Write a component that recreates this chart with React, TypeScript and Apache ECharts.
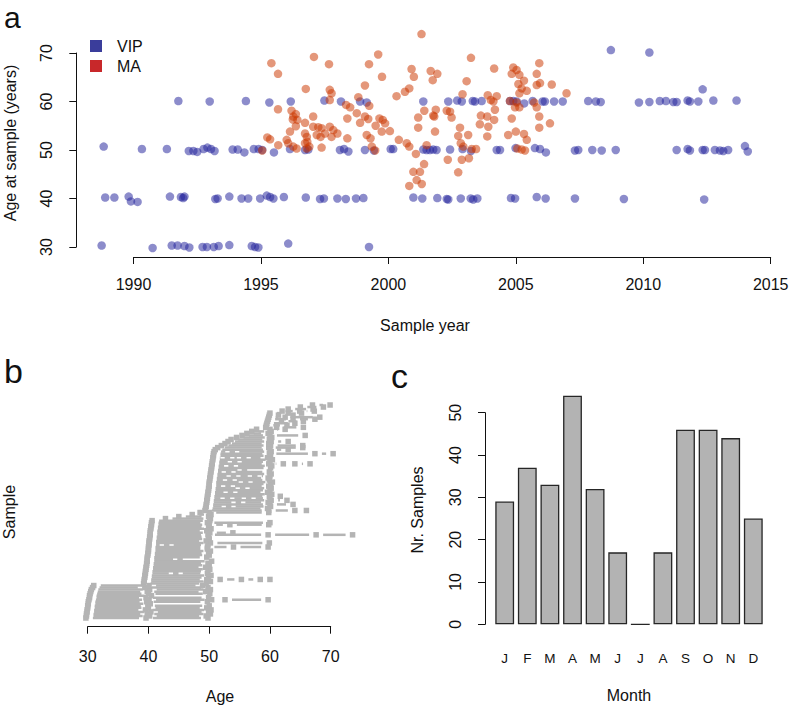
import React, { useEffect, useRef } from "react";
import * as echarts from "echarts";

const FONT = '"Liberation Sans", Arial, Helvetica, sans-serif';
const INK = "#111111";
const GREY = "#b4b4b4";

// ---- Panel a: sample year vs age at sample ----
const VIP_POINTS: [number, number][] = [
  [1988.75, 30.3], [1990.75, 29.8], [1991.5, 30.3], [1991.73, 30.3], [1992.0, 30.2], [1992.19, 29.9],
  [1992.71, 30.0], [1992.88, 30.0], [1993.15, 30.0], [1993.34, 30.2], [1993.76, 30.4], [1994.64, 30.2],
  [1994.77, 30.0], [1994.9, 29.9], [1996.07, 30.7], [1999.24, 30.0],
  [1988.89, 40.2], [1989.25, 40.2], [1989.81, 40.4], [1989.9, 39.4], [1990.16, 39.3], [1991.43, 40.4],
  [1991.86, 40.3], [1992.0, 40.4], [1991.95, 40.1], [1993.21, 39.9], [1993.3, 40.0], [1993.76, 40.4],
  [1994.24, 40.0], [1994.5, 40.0], [1994.97, 40.0], [1995.23, 40.6], [1995.36, 40.3], [1995.49, 40.0],
  [1995.9, 40.3], [1996.76, 40.2], [1997.32, 39.9], [1997.47, 40.0], [1998.0, 40.0], [1998.33, 39.9],
  [1998.73, 40.0], [1999.02, 40.1], [2000.98, 40.2], [2001.33, 40.0], [2001.92, 40.1], [2002.29, 39.9],
  [2002.35, 39.8], [2002.84, 40.0], [2003.23, 40.0], [2003.33, 39.8], [2003.49, 40.0], [2004.81, 40.1],
  [2004.97, 40.0], [2005.82, 40.3], [2006.17, 40.0], [2007.32, 40.0], [2009.24, 39.9], [2012.39, 39.8],
  [1988.83, 50.7], [1990.33, 50.2], [1991.31, 50.2], [1992.17, 49.8], [1992.35, 49.8], [1992.5, 49.6],
  [1992.75, 50.2], [1992.9, 50.5], [1993.04, 50.2], [1993.18, 49.8], [1993.89, 50.1], [1994.09, 50.1],
  [1994.35, 49.5], [1994.72, 50.2], [1994.91, 50.2], [1995.05, 50.0], [1995.51, 49.5], [1996.14, 50.2],
  [1996.73, 50.0], [1996.86, 50.1], [1998.1, 50.0], [1998.26, 50.2], [1998.43, 49.7], [1999.08, 50.0],
  [1999.43, 49.9], [2000.09, 50.2], [2000.19, 50.2], [2001.37, 50.1], [2001.5, 50.0], [2001.63, 50.0],
  [2001.76, 50.1], [2001.89, 50.0], [2002.42, 50.1], [2002.91, 50.2], [2003.24, 49.8], [2004.25, 50.0],
  [2004.38, 50.0], [2004.99, 50.4], [2005.75, 50.4], [2005.95, 50.2], [2006.18, 49.5], [2007.32, 49.9],
  [2007.45, 50.0], [2008.0, 50.0], [2008.37, 49.9], [2008.92, 50.0], [2011.31, 50.0], [2011.74, 50.2],
  [2011.83, 49.9], [2012.33, 50.0], [2012.42, 50.0], [2012.81, 50.0], [2013.01, 49.9], [2013.14, 49.8],
  [2013.33, 50.0], [2013.99, 50.8], [2014.1, 49.7],
  [1991.76, 60.1], [1992.99, 60.0], [1994.41, 60.1], [1995.33, 59.8], [1996.17, 60.0], [1997.49, 60.2],
  [1998.14, 60.0], [1998.89, 60.0], [1999.15, 59.8], [2001.37, 60.0], [2002.35, 60.0], [2002.7, 60.2],
  [2002.88, 60.0], [2003.31, 60.1], [2003.4, 60.0], [2003.66, 60.1], [2004.77, 60.1], [2004.9, 60.1],
  [2005.03, 60.0], [2005.33, 59.6], [2005.66, 60.1], [2006.05, 60.0], [2006.14, 60.0], [2006.5, 60.0],
  [2006.84, 60.0], [2007.84, 60.1], [2008.14, 60.0], [2008.33, 59.9], [2009.83, 59.8], [2010.24, 59.9],
  [2010.65, 60.1], [2010.89, 60.1], [2011.18, 59.9], [2011.31, 59.9], [2011.74, 60.2], [2011.83, 60.0],
  [2012.16, 60.0], [2012.33, 62.5], [2012.75, 60.2], [2013.66, 60.2],
  [2008.73, 70.6], [2010.24, 70.1],
];

const MA_POINTS: [number, number][] = [
  [1995.05, 49.9], [1995.25, 52.6], [1995.36, 52.2], [1995.41, 67.9], [1995.67, 65.7], [1995.67, 58.4],
  [1995.68, 51.0], [1996.01, 52.1], [1996.07, 51.4], [1996.14, 53.8], [1996.2, 58.1], [1996.25, 56.3],
  [1996.27, 56.9], [1996.27, 50.7], [1996.37, 57.4], [1996.37, 54.9], [1996.4, 50.3], [1996.43, 56.2],
  [1996.73, 55.6], [1996.73, 53.4], [1996.73, 51.4], [1996.76, 62.6], [1996.8, 52.7], [1996.8, 50.3],
  [1996.82, 51.7], [1996.9, 50.7], [1997.05, 56.9], [1997.05, 54.8], [1997.08, 69.2], [1997.19, 53.1],
  [1997.25, 54.7], [1997.34, 52.7], [1997.38, 54.5], [1997.38, 50.5], [1997.51, 53.4], [1997.67, 67.7],
  [1997.7, 62.4], [1997.77, 61.7], [1997.7, 60.3], [1997.7, 54.8], [1997.84, 54.1], [1997.77, 52.7],
  [1998.0, 53.4], [1998.34, 59.3], [1998.5, 58.8], [1998.39, 56.5], [1998.39, 52.4], [1998.76, 57.6],
  [1998.82, 60.9], [1998.89, 55.6], [1999.08, 63.3], [1999.08, 56.9], [1999.21, 56.4], [1999.15, 53.1],
  [1999.3, 52.4], [1999.35, 50.7], [1999.48, 49.9], [1999.25, 59.1], [1999.24, 67.7], [1999.6, 69.7],
  [1999.75, 65.1], [1999.5, 55.0], [1999.65, 56.5], [1999.78, 56.2], [1999.87, 55.5], [1999.74, 53.8],
  [2000.06, 53.9], [2000.32, 61.1], [2000.41, 52.1],
  [2000.65, 62.0], [2000.82, 62.7], [2000.91, 66.7], [2001.0, 65.1], [2001.3, 73.9], [2001.66, 66.3],
  [2001.92, 65.7], [2001.74, 64.4], [2000.72, 51.4], [2000.82, 50.7], [2001.08, 49.2], [2001.4, 47.1],
  [2000.98, 45.5], [2001.24, 45.5], [2001.11, 43.8], [2001.31, 43.0], [2000.82, 42.6], [2001.5, 51.0],
  [2001.41, 58.1], [2001.17, 56.7], [2001.76, 57.1], [2001.86, 58.3], [2001.8, 56.9], [2001.17, 54.6],
  [2001.83, 53.8], [2002.29, 58.1], [2002.48, 56.7], [2002.42, 57.9], [2002.81, 54.6], [2002.74, 52.9],
  [2002.84, 51.4], [2002.94, 50.7], [2003.13, 53.1], [2002.33, 48.0], [2002.88, 48.0], [2003.16, 48.3],
  [2002.74, 45.4], [2002.91, 61.5], [2003.07, 64.2], [2003.24, 69.0], [2003.27, 50.2], [2003.44, 50.2],
  [2003.63, 57.1], [2003.59, 55.3], [2003.88, 56.9], [2003.92, 54.8], [2003.88, 52.8], [2003.9, 61.3],
  [2004.02, 60.3], [2004.12, 60.0], [2004.25, 61.1], [2004.18, 58.3], [2004.15, 56.2], [2004.15, 66.8],
  [2004.7, 53.1], [2004.77, 60.1], [2004.84, 65.7], [2004.84, 56.5], [2004.9, 67.0], [2004.97, 58.8],
  [2005.0, 53.8], [2005.03, 66.5], [2005.03, 59.8], [2005.06, 50.3], [2005.1, 63.6], [2005.14, 65.5],
  [2005.14, 61.7], [2005.14, 58.8], [2005.23, 62.7], [2005.23, 50.1], [2005.32, 64.3], [2005.32, 53.3],
  [2005.36, 49.9], [2005.43, 62.2], [2005.43, 52.1], [2005.72, 59.8], [2005.82, 65.7], [2005.82, 63.4],
  [2005.82, 58.8], [2005.92, 67.9], [2005.92, 56.9], [2005.92, 54.6], [2005.95, 63.8], [2006.34, 55.5],
  [2006.41, 63.5], [2006.99, 61.7],
];

// ---- Panel b: ages at which each sampled person was sampled (one row per person) ----
const SAMPLE_ROWS: number[][] = [
  [29.7, 39.6, 49.8], [29.8, 40.2, 49.5], [29.8, 39.8, 50.2], [29.9, 40.4, 49.9], [29.9, 39.5, 50.3],
  [30.0, 40.0, 49.6], [30.0, 39.9, 50.0], [30.1, 40.3], [30.1, 39.7, 49.7], [30.2, 40.1, 50.4, 52.6, 59.7],
  [30.3, 39.6, 49.9], [30.3, 40.5], [30.4, 40.0, 50.1], [30.5, 39.8, 49.4], [30.6, 40.2, 50.2],
  [30.8, 39.4, 49.8], [31.0, 40.1, 48.9],
  [39.2, 49.5], [39.3, 50.2], [39.3, 49.6, 51.8, 55.3, 58.4, 60.0], [39.4, 49.9], [39.4, 50.3],
  [39.5, 44.5, 49.7], [39.5, 49.8], [39.6, 50.1], [39.6, 49.4], [39.7, 50.0], [39.7, 49.8], [39.8, 50.4],
  [39.8, 45.2], [39.8, 49.6], [39.9, 50.0], [39.9, 49.9], [40.0, 50.2], [40.0, 49.7],
  [40.0, 49.7, 54.0, 59.7], [40.1, 43.0, 49.8], [40.1, 50.2, 59.9], [40.1, 49.5], [40.2, 50.0],
  [40.2, 49.9], [40.3, 49.8, 59.7, 67.6, 73.6], [40.3, 50.1, 53.9], [40.3, 49.6], [40.4, 50.3],
  [40.4, 49.9], [40.5, 50.0, 53.4, 59.8], [40.5, 49.7, 60.0], [40.6, 50.1],
  [42.8, 50.2], [45.0, 49.9], [47.2, 50.3], [48.5, 50.0, 59.8],
  [49.3, 59.8, 64.1, 66.0], [49.4, 59.6], [49.5, 53.2, 60.1], [49.5, 60.0, 63.8], [49.6, 54.8, 59.7],
  [49.6, 60.2, 62.8], [49.7, 53.0, 56.5, 60.0], [49.7, 59.9, 61.7], [49.8, 60.3], [49.8, 53.5, 59.6],
  [49.9, 60.0], [49.9, 55.5, 60.2], [50.0, 53.1, 59.8], [50.0, 60.1], [50.0, 56.0, 60.4],
  [50.1, 53.4, 59.9], [50.1, 59.7], [50.2, 54.0, 57.5, 60.0], [50.2, 60.2], [50.3, 53.2, 59.9],
  [50.3, 55.8], [50.4, 60.1], [50.4, 53.6, 60.3], [50.5, 59.8, 62.2, 64.1, 66.6], [50.5, 54.2, 60.0],
  [50.6, 60.4], [50.6, 53.0, 55.7, 59.6], [50.7, 60.1], [50.7, 59.9, 67.4, 70.4], [50.8, 53.8, 60.2],
  [51.0, 60.0, 63.0], [51.4, 59.8, 65.4],
  [52.0, 60.1, 65.4], [52.6, 59.8], [53.1, 60.2, 63.0], [53.6, 59.9], [54.5, 60.3], [55.4, 60.0, 65.8],
  [56.2, 59.7], [57.0, 60.2], [57.8, 60.0, 62.5],
  [59.3, 61.1, 65.5], [59.4, 62.8], [59.5, 64.1], [59.6, 61.9, 65.5], [59.7, 63.8, 67.4],
  [59.8, 62.5, 68.2], [59.9, 61.4, 63.8], [60.0, 63.0, 65.2], [62.0, 64.9, 67.3], [63.0, 67.1],
  [65.0, 68.8], [67.0, 69.9],
];

// ---- Panel c: samples per month ----
const MONTH_NAMES = ["Jan", "Feb", "Mar", "Apr", "May", "Jun", "Jul", "Aug", "Sep", "Oct", "Nov", "Dec"];
const MONTH_COUNTS = [29, 37, 33, 54, 32, 17, 0, 17, 46, 46, 44, 25];

const VIP_COLOR = "rgba(35,35,155,0.65)";
const MA_COLOR = "rgba(204,55,0,0.65)";

function text(
  str: string, x: number, y: number, size: number,
  opts: { align?: string; valign?: string; rotation?: number } = {}
) {
  const align = opts.align || "center";
  const valign = opts.valign || "middle";
  return {
    type: "text",
    x,
    y,
    rotation: opts.rotation || 0,
    silent: true,
    style: {
      text: str,
      fontSize: size,
      fontFamily: FONT,
      fill: INK,
      align,
      verticalAlign: valign,
      textAlign: align,
      textVerticalAlign: valign,
    },
  };
}

export default function App() {
  const ref = useRef<HTMLDivElement>(null);

  useEffect(() => {
    document.body.style.margin = "0";
    if (!ref.current) return;
    const chart = echarts.init(ref.current, undefined, { renderer: "svg" });

    const axisLine = { show: true, onZero: false, lineStyle: { color: INK, width: 1 } };
    const axisTick = { show: true, length: 7, lineStyle: { color: INK, width: 1 } };
    const plain = (v: number) => String(v);

    const option: any = {
      animation: false,
      backgroundColor: "#ffffff",
      textStyle: { fontFamily: FONT },
      legend: {
        orient: "vertical",
        left: 90,
        top: 38,
        padding: 0,
        itemWidth: 12,
        itemHeight: 12,
        itemGap: 4,
        icon: "rect",
        selectedMode: false,
        textStyle: { fontSize: 16, color: INK, fontFamily: FONT, padding: [0, 0, 0, 10] },
        data: [
          { name: "VIP", itemStyle: { color: "#3a3d9b", opacity: 1 } },
          { name: "MA", itemStyle: { color: "#c8282a", opacity: 1 } },
        ],
      },
      grid: [
        { left: 133.5, right: 19.3, top: 53, bottom: 458, outerBoundsMode: "none" },
        { left: 87.7, right: 459.3, top: 405, bottom: 87, outerBoundsMode: "none" },
        { left: 493.4, right: 25.4, top: 412.7, bottom: 80.7, outerBoundsMode: "none" },
      ],
      xAxis: [
        {
          gridIndex: 0, type: "value", min: 1990, max: 2015, interval: 5, offset: 10,
          axisLine, axisTick, splitLine: { show: false },
          axisLabel: { fontSize: 16, color: INK, margin: 19, fontFamily: FONT, formatter: plain },
        },
        {
          gridIndex: 1, type: "value", min: 30, max: 70, interval: 10, offset: 8.7,
          axisLine, axisTick, splitLine: { show: false },
          axisLabel: { fontSize: 16, color: INK, margin: 22, fontFamily: FONT, formatter: plain },
        },
        {
          gridIndex: 2, type: "category", data: MONTH_NAMES,
          axisLine: { show: false }, axisTick: { show: false }, splitLine: { show: false },
          axisLabel: {
            interval: 0, fontSize: 13.5, color: INK, margin: 27, fontFamily: FONT,
            formatter: (v: string) => v.charAt(0),
          },
        },
      ],
      yAxis: [
        {
          gridIndex: 0, type: "value", min: 30, max: 70, interval: 10, offset: 57.2,
          axisLine, axisTick, splitLine: { show: false },
          axisLabel: { fontSize: 16, color: INK, margin: 22, rotate: 90, fontFamily: FONT, formatter: plain },
        },
        { gridIndex: 1, type: "value", min: 1, max: SAMPLE_ROWS.length, show: false, splitLine: { show: false } },
        {
          gridIndex: 2, type: "value", min: 0, max: 50, interval: 10, offset: 8.4,
          axisLine, axisTick, splitLine: { show: false },
          axisLabel: { fontSize: 16, color: INK, margin: 22, rotate: 90, fontFamily: FONT, formatter: plain },
        },
      ],
      series: [
        {
          name: "VIP", type: "scatter", xAxisIndex: 0, yAxisIndex: 0, clip: false,
          symbol: "circle", symbolSize: 8.5, data: VIP_POINTS,
          itemStyle: { color: VIP_COLOR }, emphasis: { disabled: true },
        },
        {
          name: "MA", type: "scatter", xAxisIndex: 0, yAxisIndex: 0, clip: false,
          symbol: "circle", symbolSize: 8.5, data: MA_POINTS,
          itemStyle: { color: MA_COLOR }, emphasis: { disabled: true },
        },
        {
          name: "rows", type: "custom", xAxisIndex: 1, yAxisIndex: 1, clip: false,
          data: SAMPLE_ROWS.map((ages, i) => [ages[0], i + 1]),
          renderItem: (params: any, api: any) => {
            const ages = SAMPLE_ROWS[params.dataIndex];
            const row = params.dataIndex + 1;
            const pts = ages.map((a) => api.coord([a, row]));
            const gap = 7;
            const children: any[] = [];
            for (let i = 0; i < pts.length - 1; i++) {
              const [x1, y1] = pts[i];
              const [x2] = pts[i + 1];
              if (x2 - x1 > 2 * gap) {
                children.push({
                  type: "line",
                  shape: { x1: x1 + gap, y1, x2: x2 - gap, y2: y1 },
                  style: { stroke: GREY, lineWidth: 2.5 },
                });
              }
            }
            pts.forEach(([x, y]: number[]) => {
              children.push({
                type: "rect",
                shape: { x: x - 2.75, y: y - 2.75, width: 5.5, height: 5.5 },
                style: { fill: GREY },
              });
            });
            return { type: "group", children };
          },
        },
        {
          name: "months", type: "bar", xAxisIndex: 2, yAxisIndex: 2, clip: false,
          data: MONTH_COUNTS, barCategoryGap: "16.7%",
          itemStyle: { color: "#b3b3b3", borderColor: "#262626", borderWidth: 1.3 },
          emphasis: { disabled: true },
        },
      ],
      graphic: [
        text("a", 4, 17, 30, { align: "left" }),
        text("b", 4, 371, 34, { align: "left" }),
        text("c", 391, 376, 34, { align: "left" }),
        text("Sample year", 425, 325, 16),
        text("Age at sample (years)", 10, 143, 16, { rotation: Math.PI / 2 }),
        text("Age", 220, 696, 16),
        text("Sample", 9, 512, 16, { rotation: Math.PI / 2 }),
        text("Month", 629, 695, 16),
        text("Nr. Samples", 417, 510, 16, { rotation: Math.PI / 2 }),
      ],
    };

    chart.setOption(option);
    return () => chart.dispose();
  }, []);

  return <div ref={ref} style={{ width: 790, height: 705 }} />;
}
